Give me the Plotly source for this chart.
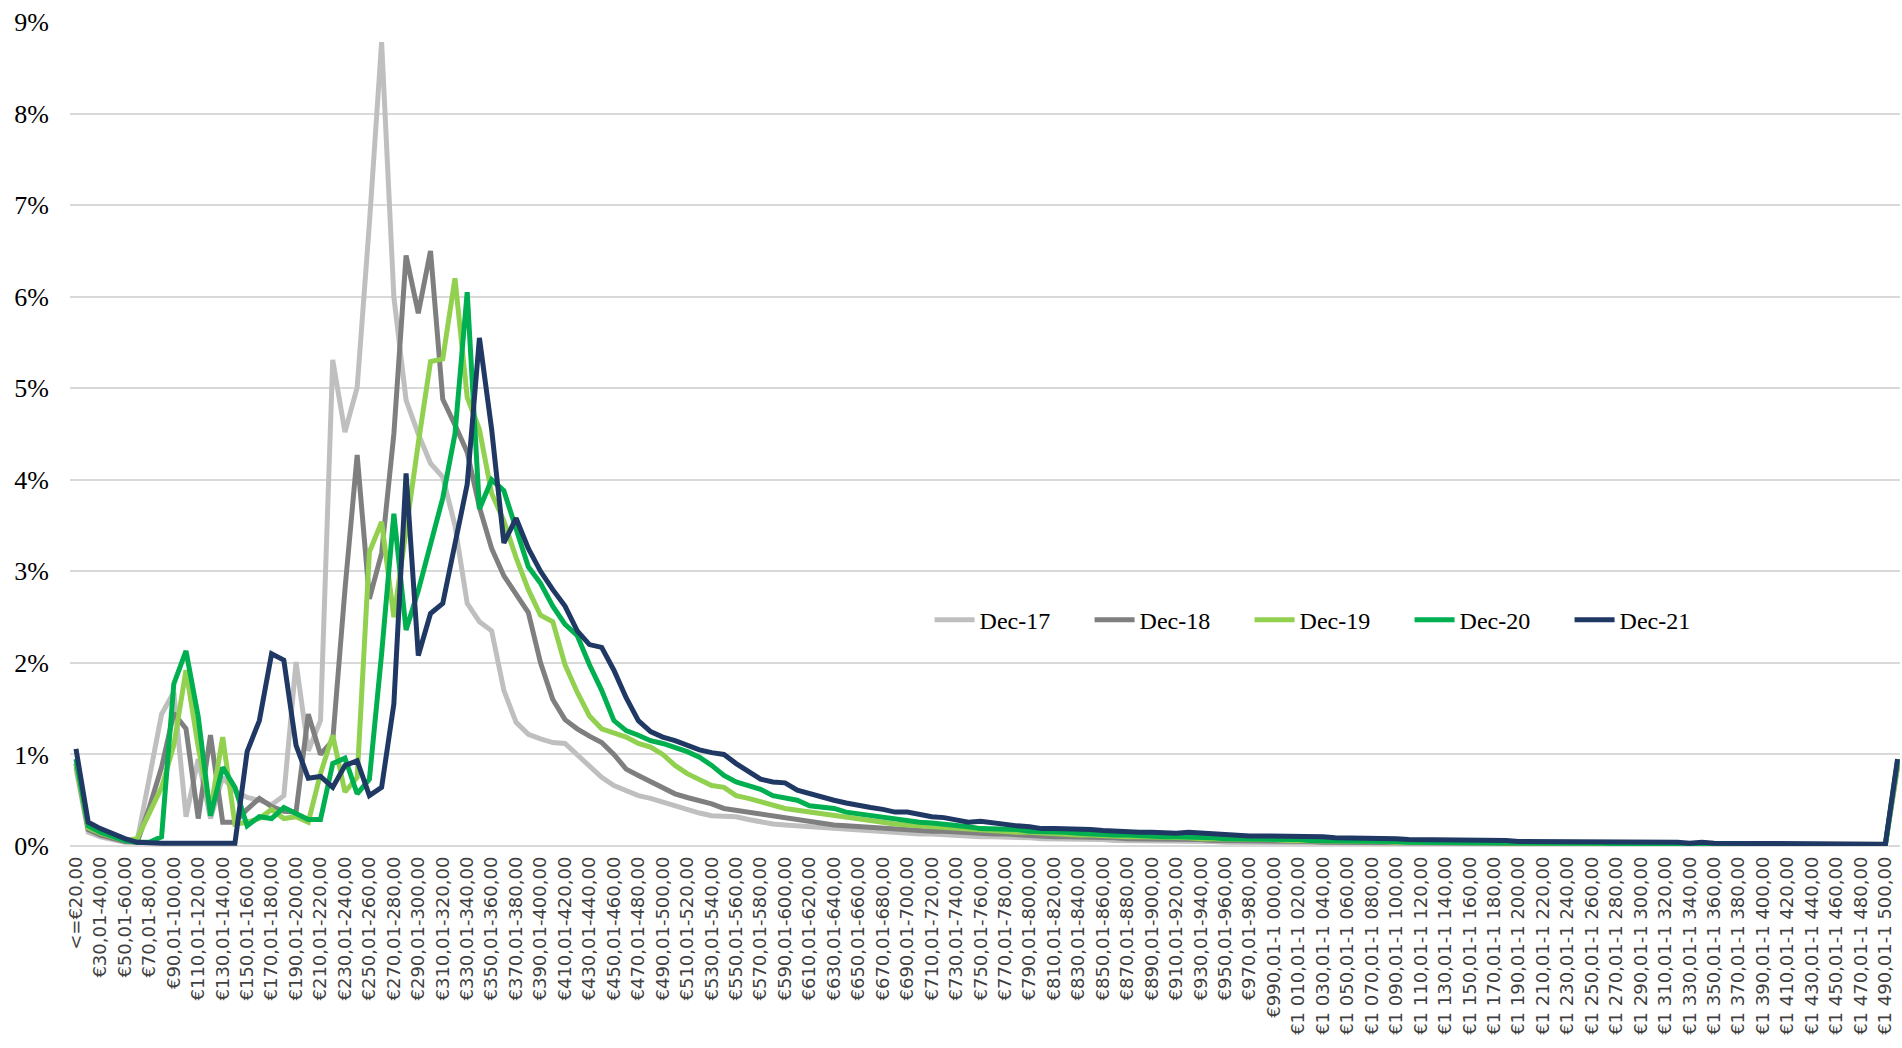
import plotly.graph_objects as go

# ---- categories (income bands) ----
band_lows = list(range(20, 1500, 10))  # lower bounds of the 10-euro bands


def fmt(v):
    s = str(v)
    if v >= 1000:
        s = s[:-3] + " " + s[-3:]
    return s


categories = ["<=€20,00"] + [f"€{fmt(lo)},01-{fmt(lo + 10)},00" for lo in band_lows] + [">€1 500,00"]

# ---- series values (% of total) ----
dec17 = [0.85, 0.15, 0.10, 0.07, 0.04, 0.05, 0.75, 1.44, 1.68, 0.32,
         0.95, 0.30, 0.75, 0.60, 0.53, 0.50, 0.45, 0.55, 2.01, 1.04,
         1.37, 5.31, 4.52, 5.01, 6.80, 8.78, 6.00, 4.87, 4.50, 4.18,
         4.03, 3.50, 2.65, 2.45, 2.35, 1.70, 1.35, 1.22, 1.17, 1.13,
         1.12, 1.00, 0.88, 0.75, 0.66, 0.61, 0.55, 0.52, 0.48, 0.43,
         0.39, 0.36, 0.33, 0.32, 0.32, 0.29, 0.26, 0.24, 0.23, 0.22,
         0.21, 0.20, 0.19, 0.18, 0.17, 0.16, 0.15, 0.15, 0.14, 0.13,
         0.13, 0.12, 0.11, 0.11, 0.10, 0.10, 0.10, 0.09, 0.09, 0.08,
         0.08, 0.08, 0.07, 0.07, 0.07, 0.06, 0.06, 0.06, 0.06, 0.05,
         0.05, 0.05, 0.05, 0.05, 0.04, 0.04, 0.04, 0.04, 0.04, 0.04,
         0.03, 0.03, 0.03, 0.03, 0.03, 0.03, 0.03, 0.03, 0.03, 0.02,
         0.02, 0.02, 0.02, 0.02, 0.02, 0.02, 0.02, 0.02, 0.02, 0.02,
         0.02, 0.02, 0.02, 0.02, 0.02, 0.01, 0.01, 0.01, 0.01, 0.01,
         0.01, 0.01, 0.01, 0.01, 0.01, 0.01, 0.01, 0.01, 0.01, 0.01,
         0.01, 0.01, 0.01, 0.01, 0.01, 0.01, 0.01, 0.01, 0.01, 0.85]

dec18 = [0.90, 0.18, 0.12, 0.08, 0.05, 0.04, 0.42, 0.86, 1.45, 1.28,
         0.30, 1.21, 0.26, 0.26, 0.40, 0.52, 0.43, 0.38, 0.37, 1.44,
         1.00, 1.15, 2.80, 4.27, 2.70, 3.20, 4.50, 6.45, 5.82, 6.50,
         4.88, 4.60, 4.30, 3.70, 3.25, 2.95, 2.75, 2.55, 2.00, 1.60,
         1.38, 1.28, 1.20, 1.13, 1.00, 0.84, 0.77, 0.70, 0.63, 0.57,
         0.53, 0.50, 0.46, 0.41, 0.39, 0.37, 0.34, 0.32, 0.31, 0.29,
         0.27, 0.25, 0.23, 0.22, 0.21, 0.21, 0.20, 0.19, 0.18, 0.17,
         0.16, 0.16, 0.15, 0.14, 0.13, 0.13, 0.13, 0.12, 0.11, 0.11,
         0.10, 0.10, 0.10, 0.09, 0.09, 0.09, 0.08, 0.08, 0.08, 0.07,
         0.07, 0.07, 0.07, 0.06, 0.06, 0.06, 0.06, 0.05, 0.05, 0.05,
         0.05, 0.05, 0.04, 0.04, 0.04, 0.04, 0.04, 0.04, 0.03, 0.03,
         0.03, 0.03, 0.03, 0.03, 0.03, 0.03, 0.03, 0.02, 0.02, 0.02,
         0.02, 0.02, 0.02, 0.02, 0.02, 0.02, 0.02, 0.02, 0.02, 0.02,
         0.02, 0.02, 0.01, 0.01, 0.01, 0.01, 0.01, 0.01, 0.01, 0.01,
         0.01, 0.01, 0.01, 0.01, 0.01, 0.01, 0.01, 0.01, 0.01, 0.88]

dec19 = [0.90, 0.20, 0.14, 0.10, 0.06, 0.08, 0.35, 0.64, 1.10, 1.92,
         1.08, 0.39, 1.19, 0.24, 0.26, 0.30, 0.40, 0.30, 0.32, 0.26,
         0.79, 1.21, 0.59, 0.75, 3.21, 3.54, 2.50, 3.50, 4.40, 5.29,
         5.32, 6.20, 4.90, 4.55, 3.85, 3.55, 3.15, 2.80, 2.52, 2.45,
         1.98, 1.68, 1.42, 1.28, 1.24, 1.19, 1.12, 1.08, 1.00, 0.88,
         0.79, 0.72, 0.66, 0.64, 0.55, 0.52, 0.48, 0.44, 0.41, 0.39,
         0.37, 0.35, 0.33, 0.32, 0.30, 0.28, 0.26, 0.24, 0.23, 0.22,
         0.21, 0.20, 0.19, 0.18, 0.17, 0.17, 0.16, 0.15, 0.15, 0.14,
         0.13, 0.13, 0.12, 0.12, 0.11, 0.11, 0.10, 0.10, 0.10, 0.09,
         0.09, 0.09, 0.08, 0.08, 0.08, 0.07, 0.07, 0.07, 0.07, 0.06,
         0.06, 0.06, 0.06, 0.05, 0.05, 0.05, 0.05, 0.05, 0.04, 0.04,
         0.04, 0.04, 0.04, 0.04, 0.04, 0.03, 0.03, 0.03, 0.03, 0.03,
         0.03, 0.03, 0.03, 0.03, 0.02, 0.02, 0.02, 0.02, 0.02, 0.02,
         0.02, 0.02, 0.02, 0.02, 0.02, 0.01, 0.01, 0.01, 0.01, 0.01,
         0.01, 0.01, 0.01, 0.01, 0.01, 0.01, 0.01, 0.01, 0.01, 0.90]

dec20 = [0.95, 0.22, 0.15, 0.10, 0.06, 0.04, 0.04, 0.10, 1.77, 2.13,
         1.41, 0.33, 0.86, 0.64, 0.22, 0.32, 0.30, 0.42, 0.36, 0.29,
         0.29, 0.90, 0.96, 0.57, 0.73, 2.10, 3.63, 2.36, 2.79, 3.27,
         3.80, 4.50, 6.05, 3.68, 4.00, 3.88, 3.45, 3.05, 2.87, 2.62,
         2.42, 2.30, 1.98, 1.70, 1.37, 1.26, 1.21, 1.15, 1.12, 1.08,
         1.03, 0.97, 0.88, 0.77, 0.70, 0.66, 0.62, 0.55, 0.53, 0.50,
         0.44, 0.42, 0.41, 0.37, 0.35, 0.33, 0.32, 0.30, 0.28, 0.26,
         0.25, 0.24, 0.22, 0.21, 0.19, 0.19, 0.18, 0.18, 0.16, 0.16,
         0.15, 0.15, 0.14, 0.13, 0.13, 0.12, 0.12, 0.11, 0.11, 0.10,
         0.10, 0.10, 0.09, 0.09, 0.08, 0.08, 0.08, 0.07, 0.07, 0.07,
         0.07, 0.06, 0.06, 0.06, 0.06, 0.05, 0.05, 0.05, 0.05, 0.04,
         0.04, 0.04, 0.04, 0.04, 0.04, 0.04, 0.04, 0.04, 0.03, 0.03,
         0.03, 0.03, 0.03, 0.03, 0.03, 0.03, 0.02, 0.02, 0.02, 0.02,
         0.02, 0.02, 0.02, 0.02, 0.02, 0.02, 0.02, 0.01, 0.01, 0.01,
         0.01, 0.01, 0.01, 0.01, 0.01, 0.01, 0.01, 0.01, 0.01, 0.93]

dec21 = [1.06, 0.26, 0.19, 0.13, 0.08, 0.04, 0.03, 0.03, 0.03, 0.03,
         0.03, 0.02, 0.02, 0.03, 1.03, 1.37, 2.10, 2.03, 1.10, 0.74,
         0.76, 0.64, 0.88, 0.93, 0.55, 0.64, 1.55, 4.07, 2.08, 2.54,
         2.65, 3.30, 3.95, 5.55, 4.55, 3.31, 3.58, 3.25, 3.00, 2.80,
         2.62, 2.35, 2.20, 2.17, 1.92, 1.62, 1.37, 1.25, 1.19, 1.15,
         1.10, 1.05, 1.02, 1.00, 0.90, 0.81, 0.73, 0.70, 0.69, 0.61,
         0.57, 0.53, 0.50, 0.47, 0.44, 0.42, 0.40, 0.37, 0.37, 0.34,
         0.32, 0.31, 0.29, 0.26, 0.27, 0.25, 0.24, 0.22, 0.21, 0.19,
         0.19, 0.19, 0.18, 0.18, 0.17, 0.16, 0.16, 0.15, 0.15, 0.14,
         0.14, 0.15, 0.14, 0.13, 0.12, 0.12, 0.11, 0.11, 0.11, 0.11,
         0.11, 0.11, 0.10, 0.09, 0.09, 0.08, 0.09, 0.08, 0.08, 0.07,
         0.07, 0.07, 0.07, 0.06, 0.06, 0.07, 0.06, 0.06, 0.05, 0.05,
         0.05, 0.05, 0.05, 0.04, 0.04, 0.04, 0.04, 0.04, 0.04, 0.04,
         0.04, 0.04, 0.03, 0.04, 0.03, 0.03, 0.03, 0.02, 0.02, 0.02,
         0.02, 0.02, 0.02, 0.02, 0.02, 0.02, 0.02, 0.02, 0.02, 0.95]

series_names = ["Dec-17", "Dec-18", "Dec-19", "Dec-20", "Dec-21"]
series_values = [dec17, dec18, dec19, dec20, dec21]
series_colors = ["#BFBFBF", "#7F7F7F", "#92D050", "#00B050", "#1F3864"]

fig = go.Figure()
for name, vals, col in zip(series_names, series_values, series_colors):
    fig.add_trace(go.Scatter(
        x=categories, y=vals, name=name, mode="lines",
        line=dict(color=col, width=5),
        hoverinfo="x+y+name",
    ))

fig.update_layout(
    width=1902, height=1048,
    margin=dict(l=70, r=2, t=22, b=202, pad=0),
    paper_bgcolor="white", plot_bgcolor="white",
    showlegend=True,
    legend=dict(
        orientation="h", x=0.4697, y=0.274, xanchor="left", yanchor="middle",
        font=dict(family="Liberation Serif", size=24, color="#000000"),
        bgcolor="rgba(0,0,0,0)", itemwidth=40,
        entrywidth=105, entrywidthmode="pixels",
    ),
    xaxis=dict(
        type="category", categoryorder="array", categoryarray=categories,
        range=[-0.49, 149.2],
        tickmode="array", tickvals=categories[::2],
        tickangle=-90, showgrid=False, showline=False, zeroline=False,
        ticks="", ticklabelstandoff=6,
        tickfont=dict(family="DejaVu Sans", size=18, color="#404040"),
    ),
    yaxis=dict(
        range=[0, 9], dtick=1, tick0=0, ticksuffix="%",
        showgrid=True, gridcolor="#D9D9D9", gridwidth=2,
        zeroline=True, zerolinecolor="#D9D9D9", zerolinewidth=2,
        showline=False, ticks="", ticklabelstandoff=20,
        tickfont=dict(family="Liberation Serif", size=26, color="#000000"),
    ),
)

fig.write_html(
    "out.html",
    config={"displayModeBar": False},
    post_script="document.body.style.margin='0';",
)
